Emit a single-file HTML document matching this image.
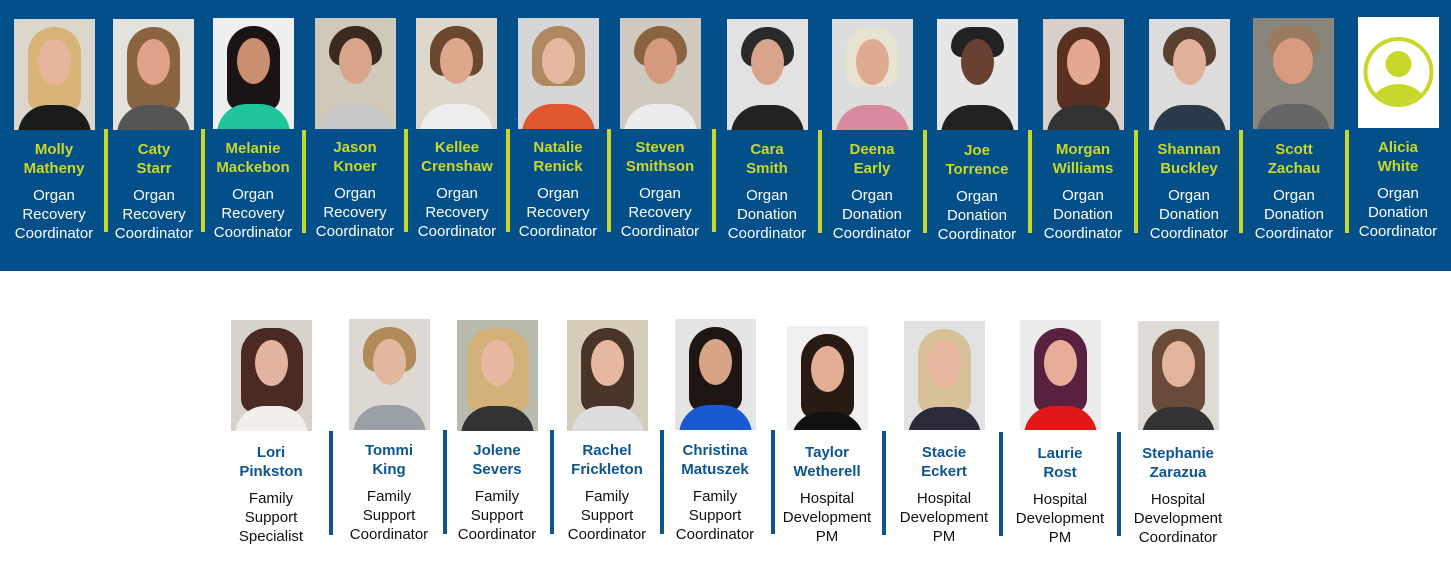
<!DOCTYPE html>
<html><head><meta charset="utf-8"><style>
body{margin:0;width:1451px;height:568px;background:#fff;position:relative;overflow:hidden;font-family:"Liberation Sans",Arial,sans-serif}
.band{position:absolute;left:0;top:0;width:1451px;height:271px;background:#024f89}
.p{position:absolute;width:81px;height:111px;overflow:hidden;background:#d9d6d0}
.p .h{position:absolute;left:14px;top:8px;width:53px;height:85px;border-radius:26px 26px 14px 14px}
.p .f{position:absolute;left:24px;top:20px;width:33px;height:46px;border-radius:50%;background:#e6b59c}
.p .s{position:absolute;left:4px;top:86px;width:73px;height:40px;border-radius:30px 30px 0 0}
.c{position:absolute;width:110px;text-align:center;font-size:15px;line-height:19px}
.c b{display:block;margin-bottom:8px}
.top b{color:#c9d72b}
.top{color:#fff}
.bot b{color:#0c5591}
.bot{color:#111}
.v{position:absolute;width:4px;height:103px;background:#c9d72b}
.vb{position:absolute;width:4px;height:104px;background:#0c5591}
</style></head><body>
<div class="band"></div>

<div class="p" style="left:14px;top:19px;background:#dcd6cc"><div class="h" style="background:#d9b478"></div><div class="f"></div><div class="s" style="background:#1b1b1b"></div></div>
<div class="p" style="left:113px;top:19px;background:#e4e2dc"><div class="h" style="background:#8a6440"></div><div class="f" style="background:#e0a08a"></div><div class="s" style="background:#555"></div></div>
<div class="p" style="left:213px;top:18px;background:#efefef"><div class="h" style="background:#1a1414"></div><div class="f" style="background:#c98f70"></div><div class="s" style="background:#1fc49a"></div></div>
<div class="p" style="left:315px;top:18px;background:#d0c8b8"><div class="h" style="background:#3a2a20;height:40px"></div><div class="f" style="background:#d8a58a"></div><div class="s" style="background:#c8c8c8"></div></div>
<div class="p" style="left:416px;top:18px;background:#ded8cc"><div class="h" style="background:#6a4830;height:50px"></div><div class="f" style="background:#dca88c"></div><div class="s" style="background:#eee"></div></div>
<div class="p" style="left:518px;top:18px;background:#d6d6d6"><div class="h" style="background:#b08860;height:60px"></div><div class="f" style="background:#e6b8a0"></div><div class="s" style="background:#e0562e"></div></div>
<div class="p" style="left:620px;top:18px;background:#cfc9bf"><div class="h" style="background:#8a6440;height:40px"></div><div class="f" style="background:#d49a80"></div><div class="s" style="background:#ececec"></div></div>
<div class="p" style="left:727px;top:19px;background:#e2e2e2"><div class="h" style="background:#2a2a2a;height:40px"></div><div class="f" style="background:#d8a48a"></div><div class="s" style="background:#222"></div></div>
<div class="p" style="left:832px;top:19px;background:#ddd"><div class="h" style="background:#e8e2d0;height:60px"></div><div class="f" style="background:#e0aa90"></div><div class="s" style="background:#d88aa0"></div></div>
<div class="p" style="left:937px;top:19px;background:#e6e6e6"><div class="h" style="background:#222;height:30px"></div><div class="f" style="background:#6a4030"></div><div class="s" style="background:#222"></div></div>
<div class="p" style="left:1043px;top:19px;background:#d8d0c8"><div class="h" style="background:#5a3020"></div><div class="f" style="background:#e4a890"></div><div class="s" style="background:#333"></div></div>
<div class="p" style="left:1149px;top:19px;background:#dcdcdc"><div class="h" style="background:#5a4030;height:40px"></div><div class="f" style="background:#e0b09a"></div><div class="s" style="background:#2a3a4a"></div></div>
<div class="p" style="left:1253px;top:18px;background:#8a857c"><div class="h" style="background:#9a7a60;height:30px"></div><div class="f" style="background:#d89a80;width:40px;left:20px"></div><div class="s" style="background:#666"></div></div>
<div class="p" style="left:1358px;top:17px;background:#fff">
<svg width="81" height="111" viewBox="0 0 81 111"><defs><clipPath id="cc"><circle cx="40.5" cy="55" r="31"/></clipPath></defs>
<circle cx="40.5" cy="55" r="35" fill="#c9d72b"/><circle cx="40.5" cy="55" r="31" fill="#fff"/>
<circle cx="40.5" cy="47" r="13" fill="#c9d72b"/><g clip-path="url(#cc)"><ellipse cx="40.5" cy="88" rx="27" ry="21" fill="#c9d72b"/></g></svg></div>

<div class="v" style="left:104px;top:129px"></div>
<div class="v" style="left:201px;top:129px"></div>
<div class="v" style="left:302px;top:130px"></div>
<div class="v" style="left:404px;top:129px"></div>
<div class="v" style="left:506px;top:129px"></div>
<div class="v" style="left:607px;top:129px"></div>
<div class="v" style="left:712px;top:129px"></div>
<div class="v" style="left:818px;top:130px"></div>
<div class="v" style="left:923px;top:130px"></div>
<div class="v" style="left:1028px;top:130px"></div>
<div class="v" style="left:1134px;top:130px"></div>
<div class="v" style="left:1239px;top:130px"></div>
<div class="v" style="left:1345px;top:130px"></div>

<div class="c top" style="left:-1px;top:140px"><b>Molly<br>Matheny</b>Organ<br>Recovery<br>Coordinator</div>
<div class="c top" style="left:99px;top:140px"><b>Caty<br>Starr</b>Organ<br>Recovery<br>Coordinator</div>
<div class="c top" style="left:198px;top:139px"><b>Melanie<br>Mackebon</b>Organ<br>Recovery<br>Coordinator</div>
<div class="c top" style="left:300px;top:138px"><b>Jason<br>Knoer</b>Organ<br>Recovery<br>Coordinator</div>
<div class="c top" style="left:402px;top:138px"><b>Kellee<br>Crenshaw</b>Organ<br>Recovery<br>Coordinator</div>
<div class="c top" style="left:503px;top:138px"><b>Natalie<br>Renick</b>Organ<br>Recovery<br>Coordinator</div>
<div class="c top" style="left:605px;top:138px"><b>Steven<br>Smithson</b>Organ<br>Recovery<br>Coordinator</div>
<div class="c top" style="left:712px;top:140px"><b>Cara<br>Smith</b>Organ<br>Donation<br>Coordinator</div>
<div class="c top" style="left:817px;top:140px"><b>Deena<br>Early</b>Organ<br>Donation<br>Coordinator</div>
<div class="c top" style="left:922px;top:141px"><b>Joe<br>Torrence</b>Organ<br>Donation<br>Coordinator</div>
<div class="c top" style="left:1028px;top:140px"><b>Morgan<br>Williams</b>Organ<br>Donation<br>Coordinator</div>
<div class="c top" style="left:1134px;top:140px"><b>Shannan<br>Buckley</b>Organ<br>Donation<br>Coordinator</div>
<div class="c top" style="left:1239px;top:140px"><b>Scott<br>Zachau</b>Organ<br>Donation<br>Coordinator</div>
<div class="c top" style="left:1343px;top:138px"><b>Alicia<br>White</b>Organ<br>Donation<br>Coordinator</div>

<div class="p" style="left:231px;top:320px;background:#d8d2cc"><div class="h" style="background:#4a2a22;width:62px;left:10px"></div><div class="f" style="background:#e2b4a0"></div><div class="s" style="background:#f2efea"></div></div>
<div class="p" style="left:349px;top:319px;background:#ddd9d2"><div class="h" style="background:#b08a58;height:45px"></div><div class="f" style="background:#e2b8a0"></div><div class="s" style="background:#9aa0a8"></div></div>
<div class="p" style="left:457px;top:320px;background:#b8bcae"><div class="h" style="background:#d4b07a;width:62px;left:10px"></div><div class="f" style="background:#e8b8a0"></div><div class="s" style="background:#333"></div></div>
<div class="p" style="left:567px;top:320px;background:#d6ccba"><div class="h" style="background:#4a3428"></div><div class="f" style="background:#e6b8a2"></div><div class="s" style="background:#ddd"></div></div>
<div class="p" style="left:675px;top:319px;background:#e4e4e4"><div class="h" style="background:#1e1612"></div><div class="f" style="background:#d8a488"></div><div class="s" style="background:#1a5ad0"></div></div>
<div class="p" style="left:787px;top:326px;background:#f0f0f0;height:104px"><div class="h" style="background:#2a1a14"></div><div class="f" style="background:#e2ae94"></div><div class="s" style="background:#111"></div></div>
<div class="p" style="left:904px;top:321px;background:#e2e2e2;height:109px"><div class="h" style="background:#d8c098"></div><div class="f" style="background:#e8b8a0"></div><div class="s" style="background:#2a2a3a"></div></div>
<div class="p" style="left:1020px;top:320px;background:#ececec;height:110px"><div class="h" style="background:#5a2040"></div><div class="f" style="background:#e6ae98"></div><div class="s" style="background:#e01818"></div></div>
<div class="p" style="left:1138px;top:321px;background:#dedad4;height:109px"><div class="h" style="background:#6a4a38"></div><div class="f" style="background:#e4b49c"></div><div class="s" style="background:#333"></div></div>

<div class="vb" style="left:329px;top:431px"></div>
<div class="vb" style="left:443px;top:430px"></div>
<div class="vb" style="left:550px;top:430px"></div>
<div class="vb" style="left:660px;top:430px"></div>
<div class="vb" style="left:771px;top:430px"></div>
<div class="vb" style="left:882px;top:431px"></div>
<div class="vb" style="left:999px;top:432px"></div>
<div class="vb" style="left:1117px;top:432px"></div>

<div class="c bot" style="left:216px;top:443px"><b>Lori<br>Pinkston</b>Family<br>Support<br>Specialist</div>
<div class="c bot" style="left:334px;top:441px"><b>Tommi<br>King</b>Family<br>Support<br>Coordinator</div>
<div class="c bot" style="left:442px;top:441px"><b>Jolene<br>Severs</b>Family<br>Support<br>Coordinator</div>
<div class="c bot" style="left:552px;top:441px"><b>Rachel<br>Frickleton</b>Family<br>Support<br>Coordinator</div>
<div class="c bot" style="left:660px;top:441px"><b>Christina<br>Matuszek</b>Family<br>Support<br>Coordinator</div>
<div class="c bot" style="left:772px;top:443px"><b>Taylor<br>Wetherell</b>Hospital<br>Development<br>PM</div>
<div class="c bot" style="left:889px;top:443px"><b>Stacie<br>Eckert</b>Hospital<br>Development<br>PM</div>
<div class="c bot" style="left:1005px;top:444px"><b>Laurie<br>Rost</b>Hospital<br>Development<br>PM</div>
<div class="c bot" style="left:1123px;top:444px"><b>Stephanie<br>Zarazua</b>Hospital<br>Development<br>Coordinator</div>
</body></html>
